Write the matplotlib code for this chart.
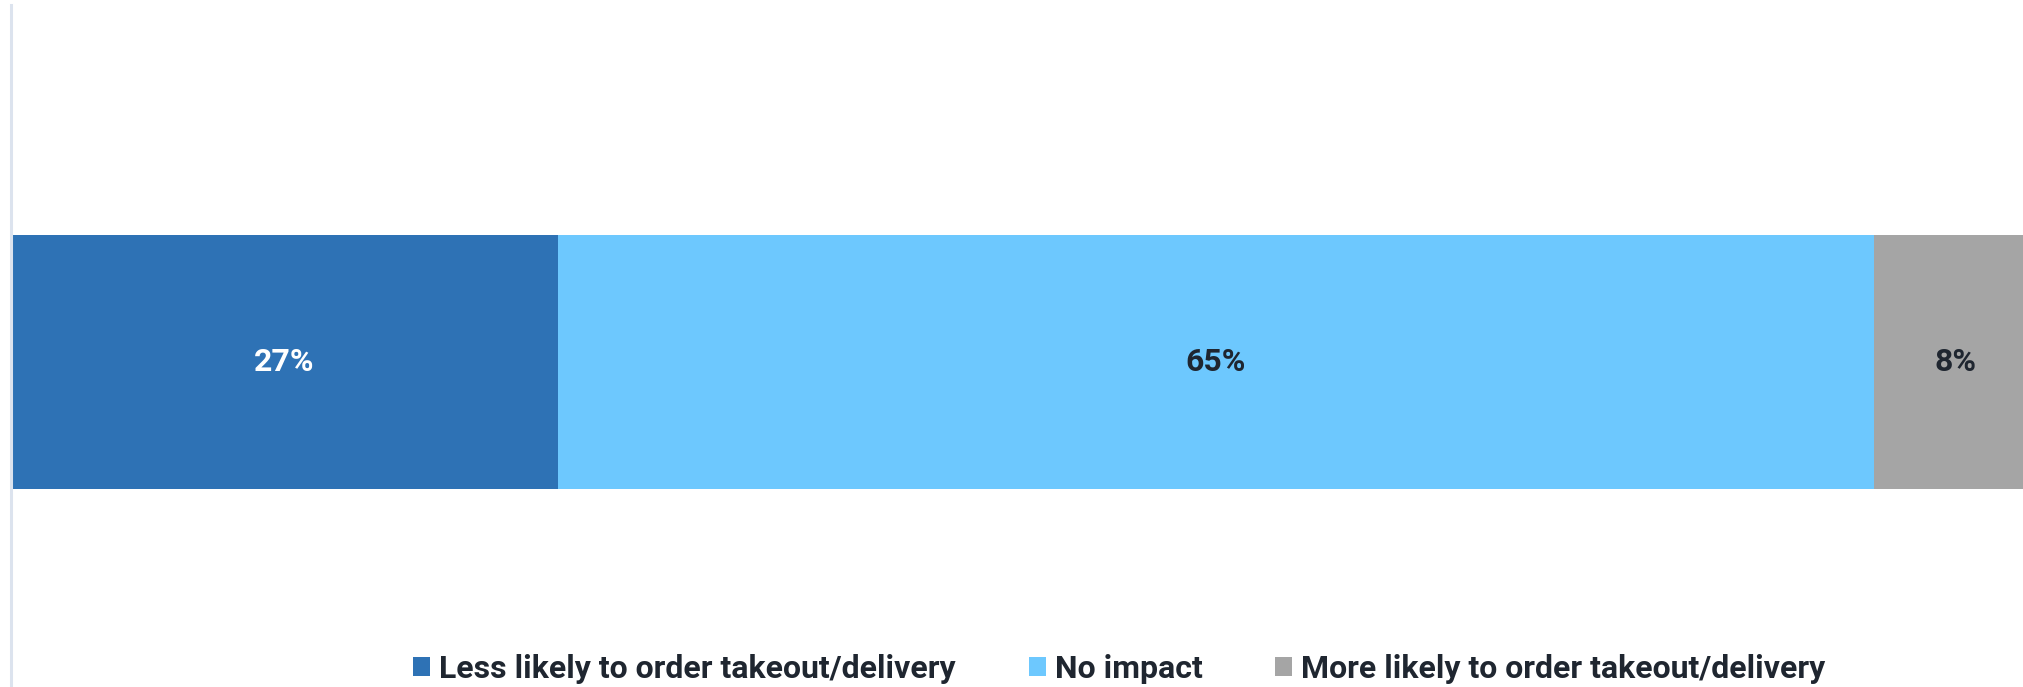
import matplotlib.pyplot as plt
from matplotlib.patches import Patch

plt.rcParams['font.family'] = ['Roboto', 'DejaVu Sans']

categories = ['Less likely to order takeout/delivery', 'No impact',
              'More likely to order takeout/delivery']
values = [27, 65, 8]
colors = ['#2E72B5', '#6DC8FE', '#A5A5A5']
label_colors = ['white', '#1F2630', '#1F2630']

W, H = 2024, 687
fig = plt.figure(figsize=(W / 100, H / 100), dpi=100)
ax = fig.add_axes([11 / W, 0, 1 - 11 / W, 682 / H])

left = 0
for cat, v, c, tc in zip(categories, values, colors, label_colors):
    ax.barh(0, v, left=left, height=254 / 682, color=c, label=cat)
    ax.text(left + v / 2, 0, f'{v}%', ha='center', va='center',
            fontsize=23, fontweight='bold', color=tc)
    left += v

ax.set_xlim(0, 99.4)
ax.set_ylim(-0.4765, 0.5235)
ax.set_xticks([])
ax.set_yticks([])
for s in ['top', 'right', 'bottom']:
    ax.spines[s].set_visible(False)
ax.spines['left'].set_color('#DCE3EE')
ax.spines['left'].set_linewidth(2.2)

# legend entries laid out one by one along the bottom
legend_x = [413, 1029, 1275]
fs = 23
em = fs * 100 / 72
for cat, c, x in zip(categories, colors, legend_x):
    fig.legend(handles=[Patch(facecolor=c, label=cat)], loc='center left',
               bbox_to_anchor=(x / W, 1 - 669 / H), frameon=False,
               borderpad=0, borderaxespad=0, handlelength=17 / em,
               handleheight=18 / em, handletextpad=9 / em,
               prop={'size': fs, 'weight': 'bold'}, labelcolor='#1F2630')

fig.savefig('out.png', dpi=100)
